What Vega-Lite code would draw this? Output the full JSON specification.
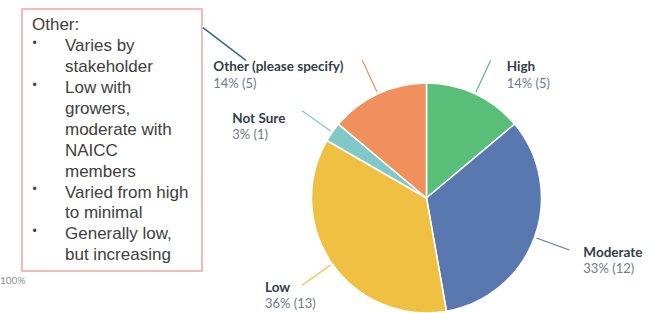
{
  "$schema": "https://vega.github.io/schema/vega-lite/v6.json",
  "padding": {"left": 0, "top": 8, "right": 0, "bottom": 0},
  "bounds": "flush",
  "spacing": 0,
  "config": {"view": {"stroke": null}},
  "hconcat": [
    {
      "width": 22,
      "height": 262,
      "data": {"values": [{"t": "100%"}]},
      "mark": {"type": "text", "align": "left", "baseline": "middle", "dx": -11, "dy": 141, "font": "Lato", "fontSize": 10, "color": "#8a8f96"},
      "encoding": {"text": {"field": "t"}}
    },
    {
      "width": 180,
      "height": 262,
      "view": {"stroke": "#f3a29b", "strokeWidth": 1.5},
      "data": {"values": [
        {"line": "Other:", "kind": "head"},
        {"line": "Varies by", "kind": "bullet"},
        {"line": "stakeholder", "kind": "cont"},
        {"line": "Low with", "kind": "bullet"},
        {"line": "growers,", "kind": "cont"},
        {"line": "moderate with", "kind": "cont"},
        {"line": "NAICC", "kind": "cont"},
        {"line": "members", "kind": "cont"},
        {"line": "Varied from high", "kind": "bullet"},
        {"line": "to minimal", "kind": "cont"},
        {"line": "Generally low,", "kind": "bullet"},
        {"line": "but increasing", "kind": "cont"}
      ]},
      "encoding": {
        "y": {"field": "line", "type": "ordinal", "sort": null, "axis": null,
              "scale": {"type": "point", "padding": 0.768, "align": 0.664}}
      },
      "layer": [
        {
          "mark": {"type": "text", "align": "left", "baseline": "alphabetic", "dx": -80, "font": "Liberation Sans", "fontSize": 17, "color": "#404040"},
          "encoding": {"text": {"condition": {"test": "datum.kind === 'head'", "field": "line"}, "value": ""}}
        },
        {
          "mark": {"type": "text", "align": "left", "baseline": "alphabetic", "dx": -79.5, "dy": -4.5, "font": "Liberation Sans", "fontSize": 12, "color": "#404040"},
          "encoding": {"text": {"condition": {"test": "datum.kind === 'bullet'", "value": "•"}, "value": ""}}
        },
        {
          "mark": {"type": "text", "align": "left", "baseline": "alphabetic", "dx": -47, "font": "Liberation Sans", "fontSize": 17, "color": "#404040"},
          "encoding": {"text": {"condition": {"test": "datum.kind !== 'head'", "field": "line"}, "value": ""}}
        }
      ]
    },
    {
      "spacing": 0,
      "bounds": "flush",
      "vconcat": [
        {
          "width": 449,
          "height": 73,
          "data": {"values": [{"a": 1}]},
          "mark": "text",
          "encoding": {"text": {"value": ""}}
        },
        {
          "width": 449,
          "height": 232,
          "layer": [
            {
              "data": {"values": [
                {"answer": "High", "count": 5, "pct": "14% (5)"},
                {"answer": "Moderate", "count": 12, "pct": "33% (12)"},
                {"answer": "Low", "count": 13, "pct": "36% (13)"},
                {"answer": "Not Sure", "count": 1, "pct": "3% (1)"},
                {"answer": "Other (please specify)", "count": 5, "pct": "14% (5)"}
              ]},
              "transform": [{"window": [{"op": "row_number", "as": "rank"}]}],
              "encoding": {
                "theta": {"field": "count", "type": "quantitative", "stack": true},
                "order": {"field": "rank", "type": "quantitative"},
                "color": {"field": "answer", "type": "nominal", "legend": null,
                          "scale": {"domain": ["High", "Moderate", "Low", "Not Sure", "Other (please specify)"],
                                    "range": ["#58be78", "#5a78b0", "#f0c042", "#80c8ca", "#f0905c"]}}
              },
              "layer": [
                {"mark": {"type": "arc", "outerRadius": 115, "stroke": "#ffffff", "strokeWidth": 1.5}},
                {"mark": {"type": "arc", "innerRadius": 117, "outerRadius": 152, "padAngle": 3, "filled": false, "strokeWidth": 1.2}},
                {
                  "mark": {"type": "text", "radius": 152, "align": "left", "baseline": "middle", "dx": 16, "dy": 7, "font": "Lato", "fontWeight": "bold", "fontSize": 13.5},
                  "encoding": {"color": {"value": "#333e48"}, "text": {"condition": {"test": "datum.answer === 'High'", "field": "answer"}, "value": ""}}
                },
                {
                  "mark": {"type": "text", "radius": 152, "align": "left", "baseline": "middle", "dx": 16, "dy": 24, "font": "Lato", "fontSize": 13},
                  "encoding": {"color": {"value": "#6f7c87"}, "text": {"condition": {"test": "datum.answer === 'High'", "field": "pct"}, "value": ""}}
                },
                {
                  "mark": {"type": "text", "radius": 152, "align": "left", "baseline": "middle", "dx": 14, "dy": 3, "font": "Lato", "fontWeight": "bold", "fontSize": 13.5},
                  "encoding": {"color": {"value": "#333e48"}, "text": {"condition": {"test": "datum.answer === 'Moderate'", "field": "answer"}, "value": ""}}
                },
                {
                  "mark": {"type": "text", "radius": 152, "align": "left", "baseline": "middle", "dx": 14, "dy": 19.5, "font": "Lato", "fontSize": 13},
                  "encoding": {"color": {"value": "#6f7c87"}, "text": {"condition": {"test": "datum.answer === 'Moderate'", "field": "pct"}, "value": ""}}
                },
                {
                  "mark": {"type": "text", "radius": 152, "align": "left", "baseline": "middle", "dx": -37, "dy": 2.5, "font": "Lato", "fontWeight": "bold", "fontSize": 13.5},
                  "encoding": {"color": {"value": "#333e48"}, "text": {"condition": {"test": "datum.answer === 'Low'", "field": "answer"}, "value": ""}}
                },
                {
                  "mark": {"type": "text", "radius": 152, "align": "left", "baseline": "middle", "dx": -37, "dy": 19, "font": "Lato", "fontSize": 13},
                  "encoding": {"color": {"value": "#6f7c87"}, "text": {"condition": {"test": "datum.answer === 'Low'", "field": "pct"}, "value": ""}}
                },
                {
                  "mark": {"type": "text", "radius": 152, "align": "left", "baseline": "middle", "dx": -69.7, "dy": 7.7, "font": "Lato", "fontWeight": "bold", "fontSize": 13.5},
                  "encoding": {"color": {"value": "#333e48"}, "text": {"condition": {"test": "datum.answer === 'Not Sure'", "field": "answer"}, "value": ""}}
                },
                {
                  "mark": {"type": "text", "radius": 152, "align": "left", "baseline": "middle", "dx": -69.7, "dy": 24.2, "font": "Lato", "fontSize": 13},
                  "encoding": {"color": {"value": "#6f7c87"}, "text": {"condition": {"test": "datum.answer === 'Not Sure'", "field": "pct"}, "value": ""}}
                },
                {
                  "mark": {"type": "text", "radius": 152, "align": "left", "baseline": "middle", "dx": -149, "dy": 6.8, "font": "Lato", "fontWeight": "bold", "fontSize": 13.5},
                  "encoding": {"color": {"value": "#333e48"}, "text": {"condition": {"test": "datum.answer === 'Other (please specify)'", "field": "answer"}, "value": ""}}
                },
                {
                  "mark": {"type": "text", "radius": 152, "align": "left", "baseline": "middle", "dx": -149, "dy": 23.8, "font": "Lato", "fontSize": 13},
                  "encoding": {"color": {"value": "#6f7c87"}, "text": {"condition": {"test": "datum.answer === 'Other (please specify)'", "field": "pct"}, "value": ""}}
                }
              ]
            },
            {
              "data": {"values": [{"note": "Other"}]},
              "mark": {"type": "arc", "innerRadius": 227, "outerRadius": 281, "padAngle": 3, "filled": false, "strokeWidth": 1.5, "color": "#2b6a8f"},
              "encoding": {
                "theta": {"datum": 30.7, "type": "quantitative"},
                "theta2": {"datum": 30.76}
              }
            }
          ]
        }
      ]
    }
  ]
}
